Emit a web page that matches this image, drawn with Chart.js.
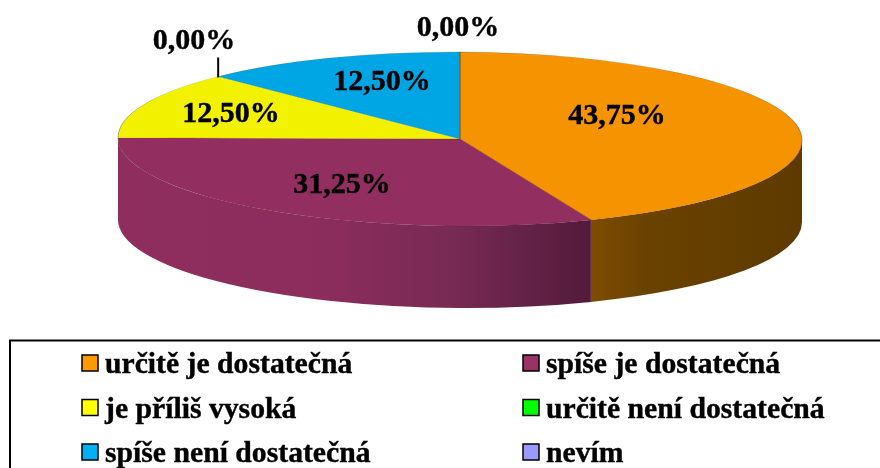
<!DOCTYPE html>
<html>
<head>
<meta charset="utf-8">
<style>html,body{margin:0;padding:0;background:#fff}canvas{display:block}</style>
<script src="https://cdn.jsdelivr.net/npm/chart.js@4"></script>
</head>
<body>
<canvas id="c" width="880" height="468"></canvas>
<script>
const categories = ['určitě je dostatečná','spíše je dostatečná','je příliš vysoká','určitě není dostatečná','spíše není dostatečná','nevím'];
const values = [43.75,31.25,12.5,0,12.5,0];
const colors = ['#F59300','#932E60','#F2F200','#00FF00','#00A6E4','#9999FF'];
const legendColors = ['#FF9900','#993366','#FFFF00','#00FF00','#00B0F0','#9999FF'];
const wallStops = {0:[[0,'#7E4D00'],[0.25,'#6A4200'],[1,'#5E3A00']],1:[[0,'#8F2E5E'],[0.45,'#8B2D5C'],[0.72,'#762A53'],[1,'#521A3B']]};
const labelSpots = [[617,116],[342,185],[231,114],[194,41],[382,82],[458,28]];

const RX = 342, RY = 87, DEPTH = 82, TILT = 0.004;
const FONT = 'bold 30px "Liberation Serif"';
const LEGEND_FONT = 'bold 29.7px "Liberation Serif"';

function boldText(ctx,t,x,y){
  ctx.lineWidth=0.4; ctx.strokeStyle='#000';
  ctx.fillText(t,x,y); ctx.strokeText(t,x,y);
}

const pie3d = {
  id:'pie3d',
  beforeDatasetsDraw(chart){
    const ctx = chart.ctx, arcs = chart.getDatasetMeta(0).data, cx = arcs[0].x, cy = arcs[0].y;
    ctx.save();
    ctx.translate(cx,cy); ctx.transform(1,TILT,0,1,0,0); ctx.translate(-cx,-cy);
    arcs.forEach((arc,i)=>{
      const a = Math.max(arc.startAngle,0), b = Math.min(arc.endAngle,Math.PI);
      if(b<=a || !wallStops[i]) return;
      const x1 = cx+RX*Math.cos(a), x2 = cx+RX*Math.cos(b);
      const g = ctx.createLinearGradient(x2,0,x1,0);
      wallStops[i].forEach(s=>g.addColorStop(s[0], s[1]));
      ctx.beginPath();
      ctx.ellipse(cx,cy,RX,RY,0,a,b);
      ctx.ellipse(cx,cy+DEPTH,RX,RY,0,b,a,true);
      ctx.closePath();
      ctx.fillStyle = g;
      ctx.fill();
    });
    ctx.translate(cx,cy); ctx.scale(1,RY/RX); ctx.translate(-cx,-cy);
  },
  afterDatasetsDraw(chart){
    const ctx = chart.ctx, arcs = chart.getDatasetMeta(0).data;
    ctx.restore();
    // leader line of the zero slice
    const z = arcs[3], px = z.x+RX*Math.cos(z.startAngle), py = z.y+RY*Math.sin(z.startAngle);
    ctx.save();
    ctx.strokeStyle='#000'; ctx.lineWidth=2;
    ctx.beginPath(); ctx.moveTo(px,py); ctx.lineTo(px,py-20); ctx.stroke();
    // value labels
    ctx.fillStyle='#000'; ctx.font=FONT; ctx.textAlign='center'; ctx.textBaseline='middle';
    values.forEach((v,i)=>boldText(ctx,v.toFixed(2).replace('.',',')+'%',labelSpots[i][0],labelSpots[i][1]));
    // legend
    ctx.strokeStyle='#000'; ctx.lineWidth=2;
    ctx.beginPath(); ctx.moveTo(10,469); ctx.lineTo(10,340.5); ctx.lineTo(881,340.5); ctx.stroke();
    ctx.font=LEGEND_FONT; ctx.textAlign='left'; ctx.textBaseline='alphabetic';
    categories.forEach((t,i)=>{
      const col=i%2, row=Math.floor(i/2), x=col?523:82, y=355+row*44.5;
      ctx.fillStyle=legendColors[i]; ctx.fillRect(x,y,16,16);
      ctx.strokeStyle='#000'; ctx.lineWidth=1.5; ctx.strokeRect(x,y,16,16);
      ctx.fillStyle='#000'; boldText(ctx,t,x+23,y+18);
    });
    ctx.restore();
  }
};

new Chart(document.getElementById('c'),{
  type:'pie',
  data:{labels:categories,datasets:[{data:values,backgroundColor:colors,borderColor:'rgba(60,30,0,0.35)',borderWidth:1,clip:false}]},
  options:{
    responsive:false,animation:false,radius:RX,
    layout:{padding:{left:40,right:0,top:0,bottom:190}},
    plugins:{legend:{display:false},tooltip:{enabled:false}}
  },
  plugins:[pie3d]
});
</script>
</body>
</html>
